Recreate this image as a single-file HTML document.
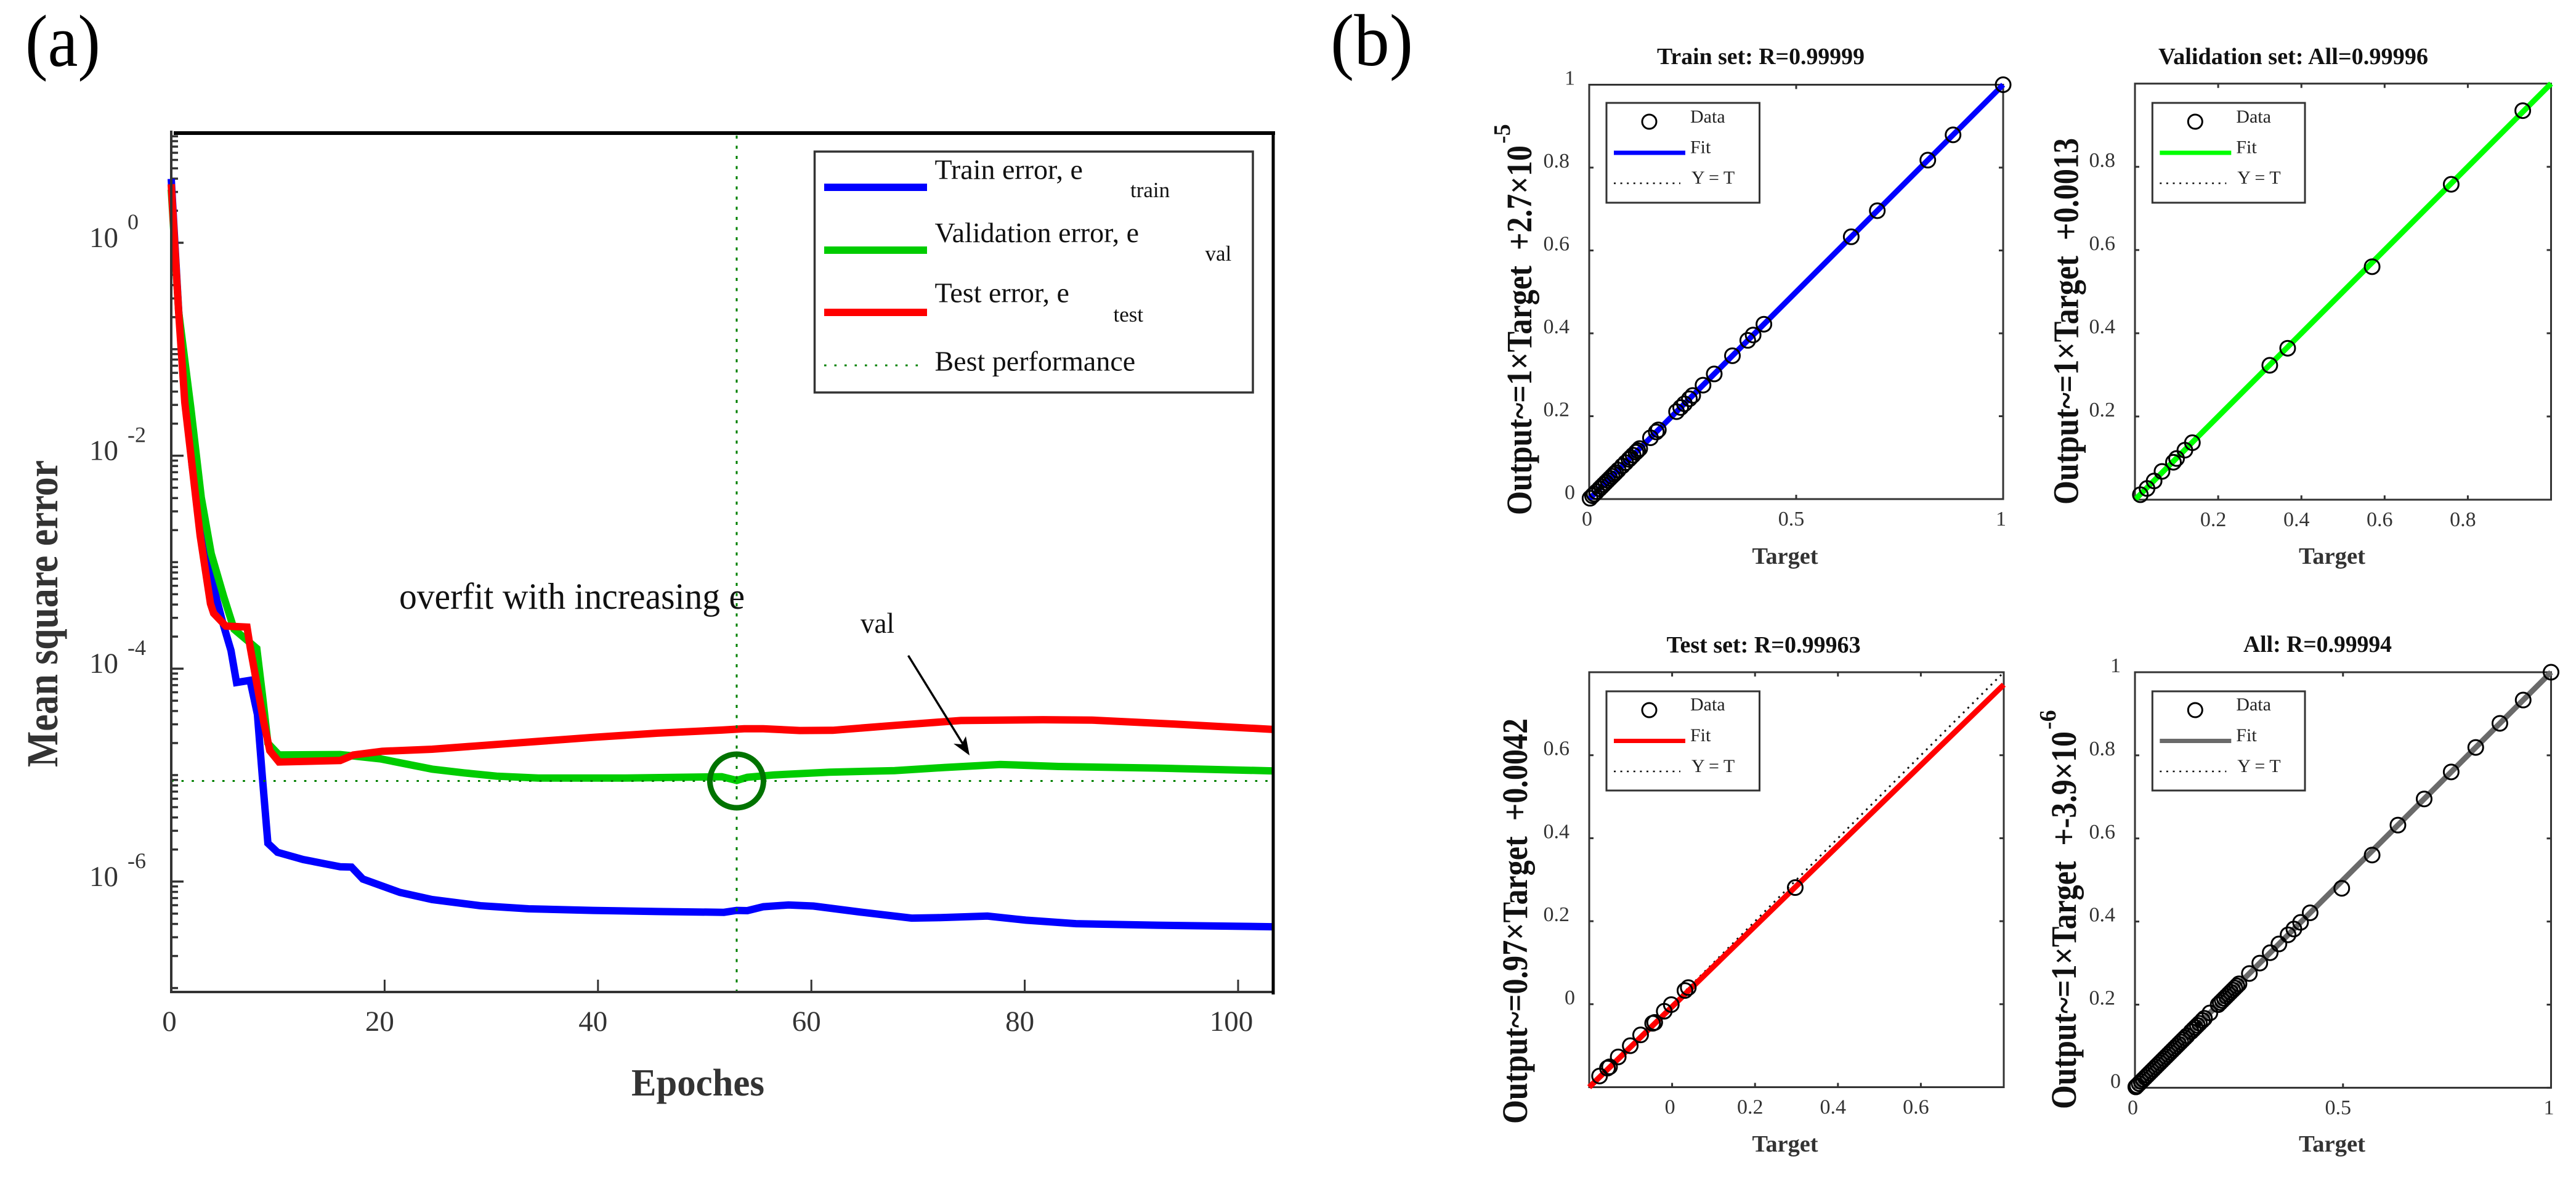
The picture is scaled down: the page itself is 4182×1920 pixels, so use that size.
<!DOCTYPE html>
<html lang="en">
<head>
<meta charset="utf-8">
<title>Training error curves and regression plots</title>
<style>
html,body{margin:0;padding:0;background:#fff;}
svg{display:block;}
text{font-family:"Liberation Serif","Times New Roman",serif;}
.tick{fill:#333;}
.bold{font-weight:bold;}
.leg{font-size:30px;fill:#222;}
.lega{font-size:46px;fill:#111;}
.subs{font-size:35px;fill:#111;}
</style>
</head>
<body>
<svg id="root" xmlns="http://www.w3.org/2000/svg" width="4182" height="1920" viewBox="0 0 4182 1920">
<rect width="4182" height="1920" fill="#fff"/>

<text x="41" y="107" font-size="120" fill="#000" textLength="122" lengthAdjust="spacingAndGlyphs">(a)</text>
<text x="2160" y="106" font-size="120" fill="#000" textLength="134" lengthAdjust="spacingAndGlyphs">(b)</text>

<!-- Panel (a) -->
<g id="panelA"></g>
<text class="bold" x="1025" y="1778" font-size="62" fill="#333" textLength="216" lengthAdjust="spacingAndGlyphs">Epoches</text>
<text class="bold" transform="translate(93,1245) rotate(-90)" font-size="72" fill="#333" textLength="498" lengthAdjust="spacingAndGlyphs">Mean square error</text>
<text x="648" y="988" font-size="60" fill="#111" textLength="561" lengthAdjust="spacingAndGlyphs">overfit with increasing e</text>
<text x="1397" y="1027" font-size="47" fill="#111" textLength="55" lengthAdjust="spacingAndGlyphs">val</text>
<line x1="1474.5" y1="1064" x2="1566" y2="1212" stroke="#000" stroke-width="3.5"/>
<polygon points="1574,1226 1548,1207 1561,1208 1568,1195" fill="#000"/>

<g>
  <rect x="1322.5" y="246" width="711.5" height="391" fill="#fff" stroke="#333" stroke-width="3.5"/>
  <line x1="1338" x2="1505" y1="304" y2="304" stroke="#0000ff" stroke-width="12"/>
  <text class="lega" x="1517.5" y="290.7">Train error, e</text>
  <text class="subs" x="1835" y="320">train</text>
  <line x1="1338" x2="1505" y1="406" y2="406" stroke="#00cc00" stroke-width="12"/>
  <text class="lega" x="1517.5" y="393">Validation error, e</text>
  <text class="subs" x="1956.5" y="423">val</text>
  <line x1="1338" x2="1505" y1="507" y2="507" stroke="#ff0000" stroke-width="12"/>
  <text class="lega" x="1517.5" y="490.7">Test error, e</text>
  <text class="subs" x="1807.5" y="522">test</text>
  <line x1="1338" x2="1496" y1="593" y2="593" stroke="#007f00" stroke-width="3" stroke-dasharray="3.6 12.9"/>
  <text class="lega" x="1517.5" y="601.7">Best performance</text>
</g>

<!-- Panel (b) -->
<g id="plotTrain"></g>
<g id="plotVal"></g>
<g id="plotTest"></g>
<g id="plotAll"></g>

<text class="bold" x="2690" y="104" font-size="38" fill="#111" textLength="337" lengthAdjust="spacingAndGlyphs">Train set: R=0.99999</text>
<text class="bold" x="3504" y="104" font-size="38" fill="#111" textLength="438" lengthAdjust="spacingAndGlyphs">Validation set: All=0.99996</text>
<text class="bold" x="2705.6" y="1059" font-size="38" fill="#111" textLength="315" lengthAdjust="spacingAndGlyphs">Test set: R=0.99963</text>
<text class="bold" x="3642" y="1058" font-size="38" fill="#111" textLength="241" lengthAdjust="spacingAndGlyphs">All: R=0.99994</text>

<text class="bold" x="2844.5" y="915" font-size="38" fill="#333" textLength="107" lengthAdjust="spacingAndGlyphs">Target</text>
<text class="bold" x="3732" y="915" font-size="38" fill="#333" textLength="108" lengthAdjust="spacingAndGlyphs">Target</text>
<text class="bold" x="2844.5" y="1869" font-size="38" fill="#333" textLength="107" lengthAdjust="spacingAndGlyphs">Target</text>
<text class="bold" x="3732" y="1869" font-size="38" fill="#333" textLength="108" lengthAdjust="spacingAndGlyphs">Target</text>

<text class="bold" transform="translate(2486,836) rotate(-90)" font-size="58" fill="#111" textLength="600" lengthAdjust="spacingAndGlyphs" xml:space="preserve">Output~=1×Target  +2.7×10</text>
<text class="bold" transform="translate(2451,233) rotate(-90)" font-size="38" fill="#111">-5</text>
<text class="bold" transform="translate(3373.5,819) rotate(-90)" font-size="58" fill="#111" textLength="595" lengthAdjust="spacingAndGlyphs" xml:space="preserve">Output~=1×Target  +0.0013</text>
<text class="bold" transform="translate(2479,1824) rotate(-90)" font-size="58" fill="#111" textLength="658" lengthAdjust="spacingAndGlyphs" xml:space="preserve">Output~=0.97×Target  +0.0042</text>
<text class="bold" transform="translate(3370,1800) rotate(-90)" font-size="58" fill="#111" textLength="613" lengthAdjust="spacingAndGlyphs" xml:space="preserve">Output~=1×Target  +-3.9×10</text>
<text class="bold" transform="translate(3337,1184) rotate(-90)" font-size="38" fill="#111">-6</text>

<!-- Regression legends -->
<g transform="translate(2608,167)">
  <rect width="248.5" height="162" fill="#fff" stroke="#333" stroke-width="3"/>
  <circle cx="69.5" cy="30.5" r="11.5" fill="none" stroke="#000" stroke-width="3"/>
  <text class="leg" x="136" y="32">Data</text>
  <line x1="12" x2="128" y1="81" y2="81" stroke="#0000ff" stroke-width="7"/>
  <text class="leg" x="136" y="81.5">Fit</text>
  <line x1="12" x2="120" y1="130.5" y2="130.5" stroke="#111" stroke-width="2.5" stroke-dasharray="3 7.6"/>
  <text class="leg" x="138" y="131">Y = T</text>
</g>
<g transform="translate(3494.3,167)">
  <rect width="247.7" height="162" fill="#fff" stroke="#333" stroke-width="3"/>
  <circle cx="69.5" cy="30.5" r="11.5" fill="none" stroke="#000" stroke-width="3"/>
  <text class="leg" x="136" y="32">Data</text>
  <line x1="12" x2="128" y1="81" y2="81" stroke="#00ff00" stroke-width="7"/>
  <text class="leg" x="136" y="81.5">Fit</text>
  <line x1="12" x2="120" y1="130.5" y2="130.5" stroke="#111" stroke-width="2.5" stroke-dasharray="3 7.6"/>
  <text class="leg" x="138" y="131">Y = T</text>
</g>
<g transform="translate(2608,1122)">
  <rect width="248.5" height="161" fill="#fff" stroke="#333" stroke-width="3"/>
  <circle cx="69.5" cy="30.5" r="11.5" fill="none" stroke="#000" stroke-width="3"/>
  <text class="leg" x="136" y="31">Data</text>
  <line x1="12" x2="128" y1="80.5" y2="80.5" stroke="#ff0000" stroke-width="7"/>
  <text class="leg" x="136" y="81">Fit</text>
  <line x1="12" x2="120" y1="130" y2="130" stroke="#111" stroke-width="2.5" stroke-dasharray="3 7.6"/>
  <text class="leg" x="138" y="131">Y = T</text>
</g>
<g transform="translate(3494.3,1122)">
  <rect width="247.7" height="161" fill="#fff" stroke="#333" stroke-width="3"/>
  <circle cx="69.5" cy="30.5" r="11.5" fill="none" stroke="#000" stroke-width="3"/>
  <text class="leg" x="136" y="31">Data</text>
  <line x1="12" x2="128" y1="80.5" y2="80.5" stroke="#6a6a6a" stroke-width="7"/>
  <text class="leg" x="136" y="81">Fit</text>
  <line x1="12" x2="120" y1="130" y2="130" stroke="#111" stroke-width="2.5" stroke-dasharray="3 7.6"/>
  <text class="leg" x="138" y="131">Y = T</text>
</g>
</svg>

<script>
/* ---------- Panel (a) data: epoch and log10(mean square error) ---------- */
const trainEpochs = [0,0.7,1.95,3,4.26,4.83,5.6,6.12,7.39,8.08,8.55,9.06,9.96,12.37,15.84,16.9,17.96,21.43,24.45,28.98,33.5,39.55,45.6,51.8,53,54,55.5,57.85,60.2,64.8,69.4,71.8,76.5,80.1,84.8,92.4,103.2];
const trainLogMse = [0.6,-0.64,-2.09,-2.81,-3.35,-3.57,-3.83,-4.13,-4.11,-4.43,-5.03,-5.64,-5.725,-5.793,-5.861,-5.864,-5.976,-6.102,-6.169,-6.227,-6.256,-6.271,-6.281,-6.289,-6.271,-6.273,-6.236,-6.22,-6.23,-6.289,-6.343,-6.339,-6.324,-6.362,-6.395,-6.41,-6.424];
const valEpochs = [0,0.7,1.85,2.81,3.75,4.91,5.89,8.02,8.55,9.06,10.1,15.84,19.6,24.45,27.47,30.5,34.4,42.6,51.6,53,54,56.5,61.7,67.8,72.5,77.7,83.2,92.4,103.2];
const valLogMse = [0.5,-0.65,-1.56,-2.39,-2.92,-3.32,-3.63,-3.81,-4.25,-4.7,-4.81,-4.807,-4.847,-4.944,-4.979,-5.01,-5.027,-5.027,-5.015,-5.05,-5.02,-4.998,-4.973,-4.958,-4.928,-4.9,-4.919,-4.934,-4.96];
const testEpochs = [0,0.7,1.27,1.95,2.71,3.68,3.97,5.12,7.1,7.4,8.69,9.24,10.1,15.84,17.06,19.77,24.45,30.5,39.55,45.6,51.6,53.7,55.5,58.9,62,67.8,74,81.7,86.3,94,103.2];
const testLogMse = [0.55,-0.66,-1.5,-2.09,-2.75,-3.39,-3.48,-3.6,-3.61,-3.8,-4.51,-4.77,-4.877,-4.863,-4.811,-4.776,-4.757,-4.712,-4.645,-4.606,-4.577,-4.564,-4.564,-4.581,-4.579,-4.533,-4.487,-4.48,-4.483,-4.52,-4.57];
const bestEpoch = [53];
const bestLogMse = [-5.055];
const epochTicks = [0,20,40,60,80,100];
const epochTickLabels = ['0','20','40','60','80','100'];
const decadeTicks = [0,-2,-4,-6];
const decadeTickExponents = ['0','-2','-4','-6'];
const minorDecades = [1,0,-1,-2,-3,-4,-5,-6,-7];

/* ---------- Panel (b) data ---------- */
const trainTargets = [1,0.879,0.818,0.696,0.633,0.422,0.396,0.383,0.346,0.302,0.275,0.25,0.242,0.23,0.221,0.211,0.167,0.162,0.148,0.122,0.117,0.113,0.106,0.1,0.096,0.088,0.08,0.07,0.064,0.06,0.055,0.05,0.045,0.04,0.035,0.03,0.025,0.018,0.012,0.008,0.002];
const trainOutputs = [1,0.879,0.818,0.696,0.633,0.422,0.396,0.383,0.346,0.302,0.275,0.25,0.242,0.23,0.221,0.211,0.167,0.162,0.148,0.122,0.117,0.113,0.106,0.1,0.096,0.088,0.08,0.07,0.064,0.06,0.055,0.05,0.045,0.04,0.035,0.03,0.025,0.018,0.012,0.008,0.002];
const valTargets = [0.932,0.76,0.57,0.367,0.324,0.138,0.12,0.1,0.0925,0.065,0.046,0.029,0.013];
const valOutputs = [0.935,0.758,0.56,0.364,0.323,0.137,0.119,0.099,0.09,0.068,0.045,0.027,0.012];
const testTargets = [0.297,0.039,0.031,-0.002,-0.019,-0.042,-0.047,-0.076,-0.101,-0.13,-0.151,-0.156,-0.175];
const testOutputs = [0.281,0.04,0.033,-0.001,-0.017,-0.044,-0.046,-0.074,-0.1,-0.127,-0.151,-0.154,-0.173];
const allTargets = [1,0.933,0.877,0.819,0.76,0.695,0.632,0.57,0.497,0.421,0.398,0.382,0.368,0.346,0.325,0.3,0.275,0.25,0.245,0.24,0.235,0.23,0.225,0.22,0.215,0.21,0.205,0.2,0.18,0.167,0.162,0.155,0.15,0.145,0.14,0.135,0.125,0.12,0.115,0.11,0.105,0.1,0.095,0.09,0.085,0.08,0.075,0.07,0.065,0.06,0.055,0.05,0.045,0.04,0.035,0.03,0.025,0.02,0.015,0.01,0.005,0.002];
const allOutputs = [1,0.933,0.877,0.819,0.76,0.695,0.632,0.56,0.48,0.421,0.398,0.382,0.368,0.346,0.325,0.3,0.275,0.25,0.245,0.24,0.235,0.23,0.225,0.22,0.215,0.21,0.205,0.2,0.18,0.167,0.162,0.155,0.15,0.145,0.14,0.135,0.125,0.12,0.115,0.11,0.105,0.1,0.095,0.09,0.085,0.08,0.075,0.07,0.065,0.06,0.055,0.05,0.045,0.04,0.035,0.03,0.025,0.02,0.015,0.01,0.005,0.002];

const trainFitY = [0,1];
const valFitY = [0,1];
const testFitY = [-0.2,0.77];
const allFitY = [0,1];

const trainXTicks = [0,0.5,1];
const trainXLabels = ['0','0.5','1'];
const trainYTicks = [0,0.2,0.4,0.6,0.8,1];
const trainYLabels = ['0','0.2','0.4','0.6','0.8','1'];
const valXTicks = [0.2,0.4,0.6,0.8];
const valXLabels = ['0.2','0.4','0.6','0.8'];
const valYTicks = [0.2,0.4,0.6,0.8];
const valYLabels = ['0.2','0.4','0.6','0.8'];
const testXTicks = [0,0.2,0.4,0.6];
const testXLabels = ['0','0.2','0.4','0.6'];
const testYTicks = [0,0.2,0.4,0.6];
const testYLabels = ['0','0.2','0.4','0.6'];
const allXTicks = [0,0.5,1];
const allXLabels = ['0','0.5','1'];
const allYTicks = [0,0.2,0.4,0.6,0.8,1];
const allYLabels = ['0','0.2','0.4','0.6','0.8','1'];

/* ---------- Drawing ---------- */
const NS = 'http://www.w3.org/2000/svg';
function node(parent, tag, props) {
  const el = document.createElementNS(NS, tag);
  for (const k in props) el.setAttribute(k, props[k]);
  parent.appendChild(el);
  return el;
}

/* Panel (a) axes */
const plotLeft = 278, plotRight = 2067, plotTop = 216, plotBottom = 1610;
const xEpoch = e => plotLeft + e * 17.32;
const yLog = v => 394 - v * 172.8;
const panelA = document.getElementById('panelA');

function drawCurve(xs, ys, color, name) {
  const pts = xs.map((e, i) => Math.min(xEpoch(e), plotRight - 2).toFixed(1) + ',' + yLog(ys[i]).toFixed(1)).join(' ');
  const el = node(panelA, 'polyline', {points: pts, fill: 'none', stroke: color, 'stroke-width': 12, 'stroke-linejoin': 'miter', 'stroke-miterlimit': 2});
  
  
}

minorDecades.forEach(d => {
  [1,2,3,4,5,6,7,8,9].forEach(m => {
    if (m === 1 && decadeTicks.indexOf(d) >= 0) return;
    const v = d + Math.log10(m);
    const y = yLog(v);
    if (y < plotTop + 2 || y > plotBottom - 2) return;
    const t = node(panelA, 'line', {x1: plotLeft, x2: plotLeft + 11, y1: y, y2: y, stroke: '#333', 'stroke-width': 3.5});
    
    
  });
});

decadeTicks.forEach((d, i) => {
  const y = yLog(d);
  const t = node(panelA, 'line', {x1: plotLeft, x2: plotLeft + 20, y1: y, y2: y, stroke: '#333', 'stroke-width': 3.5});
  
  
  const b = node(panelA, 'text', {x: 145, y: y + 7, 'font-size': 47, class: 'tick'});
  b.textContent = '10';
  
  
  const s = node(panelA, 'text', {x: 207, y: y - 22, 'font-size': 36, class: 'tick'});
  s.textContent = decadeTickExponents[i];
  
  
});

epochTicks.forEach((e, i) => {
  const x = xEpoch(e);
  const t = node(panelA, 'line', {x1: x, x2: x, y1: plotBottom, y2: plotBottom - 20, stroke: '#333', 'stroke-width': 3});
  
  
  const lab = epochTickLabels[i];
  const dx = lab.length === 1 ? -3 : (lab.length === 2 ? -8 : -11);
  const l = node(panelA, 'text', {x: x + dx, y: 1673, 'font-size': 47, 'text-anchor': 'middle', class: 'tick'});
  l.textContent = lab;
  
  
});

drawCurve(trainEpochs, trainLogMse, '#0000ff', 'train-error-line');
drawCurve(valEpochs, valLogMse, '#00cc00', 'validation-error-line');
drawCurve(testEpochs, testLogMse, '#ff0000', 'test-error-line');

const bestX = xEpoch(bestEpoch[0]), bestY = yLog(bestLogMse[0]);
const bestV = node(panelA, 'line', {x1: bestX, x2: bestX, y1: 220, y2: plotBottom - 2, stroke: '#007f00', 'stroke-width': 3, 'stroke-dasharray': '5 11.5'});


const bestH = node(panelA, 'line', {x1: plotLeft, x2: plotRight, y1: bestY, y2: bestY, stroke: '#007f00', 'stroke-width': 3, 'stroke-dasharray': '3.6 13'});


const bestRing = node(panelA, 'circle', {cx: bestX, cy: bestY, r: 43.5, fill: 'none', stroke: '#007300', 'stroke-width': 9});



const axisLeft = node(panelA, 'line', {x1: plotLeft, x2: plotLeft, y1: 212, y2: plotBottom + 2, stroke: '#333', 'stroke-width': 4});


const axisBottom = node(panelA, 'line', {x1: plotLeft, x2: plotRight + 2, y1: plotBottom, y2: plotBottom, stroke: '#333', 'stroke-width': 4});


const axisTop = node(panelA, 'line', {x1: 282, x2: plotRight + 3, y1: plotTop, y2: plotTop, stroke: '#000', 'stroke-width': 6});


const axisRight = node(panelA, 'line', {x1: plotRight, x2: plotRight, y1: plotTop - 3, y2: plotBottom + 4, stroke: '#000', 'stroke-width': 5});



/* Regression plots */
function drawRegression(id, box, prefix, color, targets, outputs, fitY, xTicks, xLabels, yTicks, yLabels) {
  const g = document.getElementById(id);
  const sx = v => box.left + (v - box.min) / (box.max - box.min) * (box.right - box.left);
  const sy = v => box.bottom - (v - box.min) / (box.max - box.min) * (box.bottom - box.top);

  const frame = node(g, 'rect', {x: box.left, y: box.top, width: box.right - box.left, height: box.bottom - box.top, fill: 'none', stroke: '#333', 'stroke-width': 3});
  
  

  xTicks.forEach((v, i) => {
    const x = sx(v);
    const t1 = node(g, 'line', {x1: x, x2: x, y1: box.bottom, y2: box.bottom - 7, stroke: '#333', 'stroke-width': 3});
    
    
    const t2 = node(g, 'line', {x1: x, x2: x, y1: box.top, y2: box.top + 7, stroke: '#333', 'stroke-width': 3});
    
    
    const dx = xLabels[i].length > 1 ? -8 : -3.5;
    const l = node(g, 'text', {x: x + dx, y: box.bottom + 43, 'font-size': 34, 'text-anchor': 'middle', class: 'tick'});
    l.textContent = xLabels[i];
    
    
  });

  yTicks.forEach((v, i) => {
    const y = sy(v);
    const t1 = node(g, 'line', {x1: box.left, x2: box.left + 7, y1: y, y2: y, stroke: '#333', 'stroke-width': 3});
    
    
    const t2 = node(g, 'line', {x1: box.right, x2: box.right - 7, y1: y, y2: y, stroke: '#333', 'stroke-width': 3});
    
    
    const off = yLabels[i].length > 1 ? 32 : 23;
    const l = node(g, 'text', {x: box.left - off, y: y, 'font-size': 34, 'text-anchor': 'end', class: 'tick'});
    l.textContent = yLabels[i];
    
    
  });

  const identity = node(g, 'line', {x1: sx(box.min), y1: sy(box.min), x2: sx(box.max), y2: sy(box.max), stroke: '#111', 'stroke-width': 3, 'stroke-dasharray': '3 7.6'});
  
  

  const fit = node(g, 'line', {x1: sx(box.min), y1: sy(fitY[0]), x2: sx(box.max), y2: sy(fitY[1]), stroke: color, 'stroke-width': 9});
  
  

  targets.forEach((t, i) => {
    const c = node(g, 'circle', {cx: sx(t), cy: sy(outputs[i]), r: 12, fill: 'none', stroke: '#000', 'stroke-width': 3});
    
    
  });
}

drawRegression('plotTrain', {left: 2580, right: 3252, top: 137.5, bottom: 810, min: 0, max: 1}, 'train', '#0000ff', trainTargets, trainOutputs, trainFitY, trainXTicks, trainXLabels, trainYTicks, trainYLabels);
drawRegression('plotVal', {left: 3466, right: 4141.5, top: 135.7, bottom: 811, min: 0, max: 1}, 'validation', '#00ff00', valTargets, valOutputs, valFitY, valXTicks, valXLabels, valYTicks, valYLabels);
drawRegression('plotTest', {left: 2580, right: 3253, top: 1091, bottom: 1764.5, min: -0.2, max: 0.8}, 'test', '#ff0000', testTargets, testOutputs, testFitY, testXTicks, testXLabels, testYTicks, testYLabels);
drawRegression('plotAll', {left: 3466, right: 4141.5, top: 1091, bottom: 1765.4, min: 0, max: 1}, 'all', '#6a6a6a', allTargets, allOutputs, allFitY, allXTicks, allXLabels, allYTicks, allYLabels);
</script>
</body>
</html>
